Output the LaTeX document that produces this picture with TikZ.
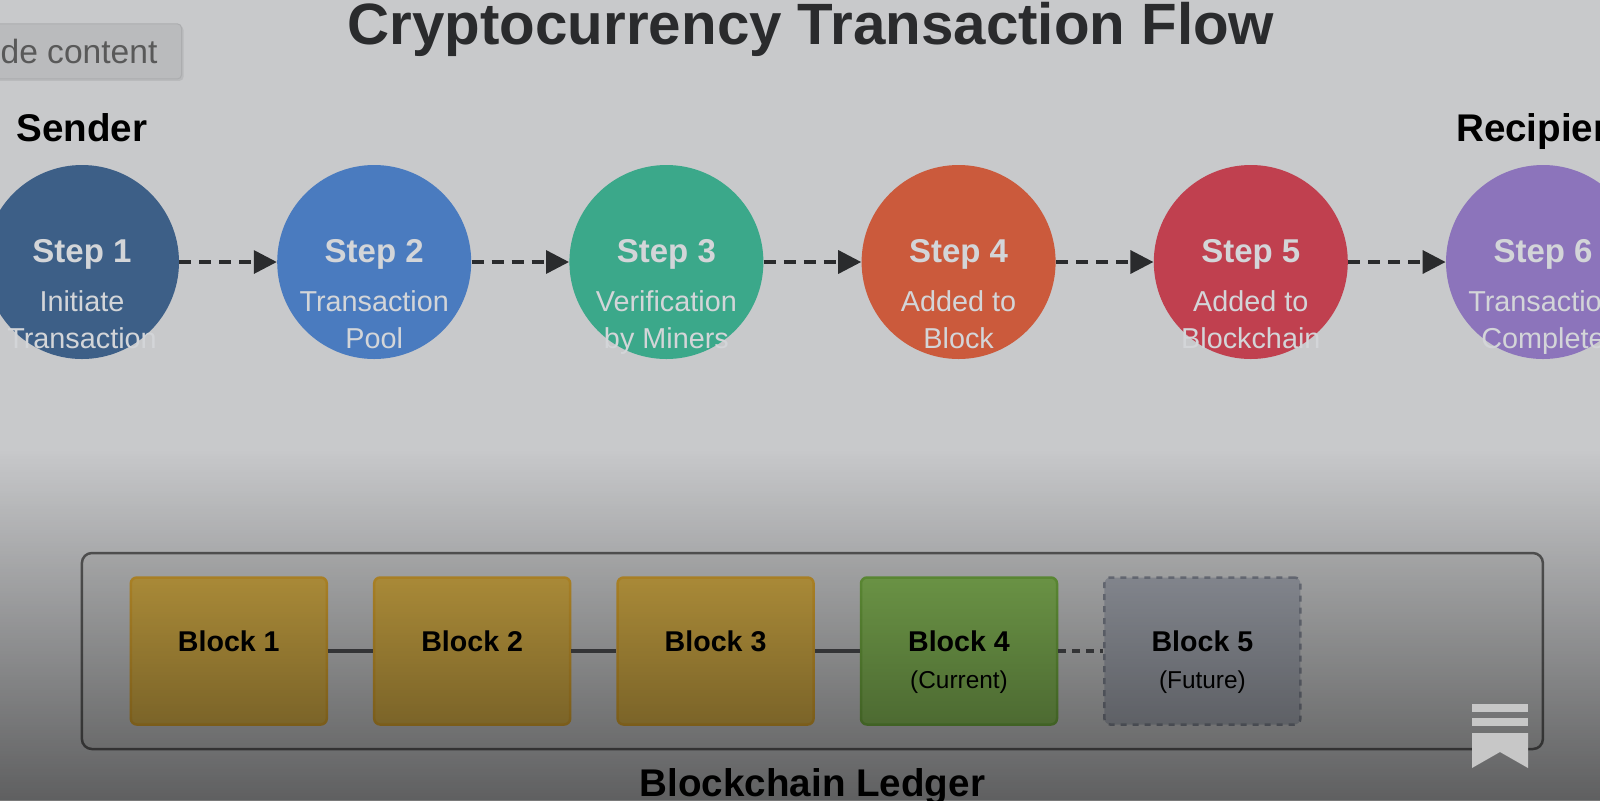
\documentclass[tikz,border=0pt]{standalone}
\usepackage{fontspec}
\setmainfont{Liberation Sans}
\usepackage{tikz}
\usetikzlibrary{arrows.meta,fadings,shadows}

\definecolor{pagebg}{HTML}{C8C9CB}
\definecolor{stepa}{HTML}{3D5F87}
\definecolor{stepb}{HTML}{4A7BBF}
\definecolor{stepc}{HTML}{3BA88A}
\definecolor{stepd}{HTML}{CB5A3C}
\definecolor{stepe}{HTML}{C0404F}
\definecolor{stepf}{HTML}{8C74BB}
\definecolor{goldfill}{HTML}{D1AA45}
\definecolor{goldline}{HTML}{D09E2E}
\definecolor{greenfill}{HTML}{83B555}
\definecolor{greenline}{HTML}{6FA63F}
\definecolor{greyfill}{HTML}{A0A4AD}
\definecolor{greyline}{HTML}{7A7F8B}
\definecolor{ledgerfill}{HTML}{C2C3C4}
\definecolor{stepwhite}{HTML}{D3D5D8}
\definecolor{inkdark}{HTML}{2A2B2D}
\definecolor{chaindark}{HTML}{4A4B4E}

\tikzfading[name=fadeledger, top color=transparent!100, bottom color=transparent!47]

\tikzset{
	stepcircle/.style={circle, minimum size=97pt, inner sep=0pt},
	steplabel/.style={align=center, text=stepwhite, font=\fontsize{14.4}{18.5}\selectfont},
	stepline/.style={-{Triangle[length=11.5pt,width=11.5pt]}, line width=1.75pt, dash pattern=on 6pt off 4pt, draw=inkdark},
	headlabel/.style={font=\fontsize{19.3}{23}\bfseries\selectfont, text=black, text height=14pt, text depth=4pt},
	blockbox/.style={draw, rectangle, rounded corners=3pt, line width=1.25pt, minimum width=98pt, minimum height=73.5pt, inner sep=0pt},
	blocklabel/.style={align=center, text=black, font=\fontsize{14.3}{19}\bfseries\selectfont},
	blocknote/.style={text=black, font=\fontsize{12.2}{15}\selectfont},
	chainline/.style={line width=2pt, draw=chaindark},
}
\newcommand{\steptext}[3]{{\fontsize{16.5}{18.5}\bfseries\selectfont #1\strut}\\[6pt] #2\\ #3\strut}

\begin{document}
\begin{tikzpicture}
	\useasboundingbox (0pt,0pt) rectangle (800pt,-400pt);
	\clip (0pt,0pt) rectangle (800pt,-400pt);
	\fill[pagebg] (0pt,0pt) rectangle (800pt,-400pt);

	\node (title) [anchor=base, text=inkdark, font=\fontsize{29.15}{35}\bfseries\selectfont] at (405.5pt,-22pt) {Cryptocurrency Transaction Flow};
	\node (hide) [anchor=east, draw=pagebg!86!black, line width=0.5pt, fill=pagebg!93!black, rounded corners=2pt, inner xsep=12pt, minimum height=27.5pt, text=black!65, font=\fontsize{16.8}{20}\selectfont, drop shadow={opacity=0.2, shadow xshift=1pt, shadow yshift=-1pt}] at (91pt,-25.7pt) {de content};

	% Steps
	\node (step1) [stepcircle, fill=stepa] at (41pt,-131pt) {};
	\node (step2) [stepcircle, fill=stepb, right of=step1, node distance=146.1pt] {};
	\node (step3) [stepcircle, fill=stepc, right of=step2, node distance=146.1pt] {};
	\node (step4) [stepcircle, fill=stepd, right of=step3, node distance=146.1pt] {};
	\node (step5) [stepcircle, fill=stepe, right of=step4, node distance=146.1pt] {};
	\node (step6) [stepcircle, fill=stepf, right of=step5, node distance=146.1pt] {};

	\node (sender) [headlabel, above of=step1, node distance=65.5pt] {Sender};
	\node (recipient) [headlabel, above of=step6, node distance=65.5pt] {Recipient};

	\node (label1) [steplabel, below of=step1, node distance=18pt] {\steptext{Step 1}{Initiate}{Transaction}};
	\node (label2) [steplabel, below of=step2, node distance=18pt] {\steptext{Step 2}{Transaction}{Pool}};
	\node (label3) [steplabel, below of=step3, node distance=18pt] {\steptext{Step 3}{Verification}{by Miners}};
	\node (label4) [steplabel, below of=step4, node distance=18pt] {\steptext{Step 4}{Added to}{Block}};
	\node (label5) [steplabel, below of=step5, node distance=18pt] {\steptext{Step 5}{Added to}{Blockchain}};
	\node (label6) [steplabel, below of=step6, node distance=18pt] {\steptext{Step 6}{Transaction}{Complete}};

	% Arrows
	\draw[stepline] (step1) -- (step2);
	\draw[stepline] (step2) -- (step3);
	\draw[stepline] (step3) -- (step4);
	\draw[stepline] (step4) -- (step5);
	\draw[stepline] (step5) -- (step6);

	% Ledger
	\node (ledger) [draw=black!64, fill=ledgerfill, rectangle, rounded corners=5pt, line width=1.25pt, minimum width=730.5pt, minimum height=98pt] at (406.2pt,-325.5pt) {};
	\node (ledgername) [headlabel, below of=ledger, node distance=67.5pt] {Blockchain Ledger};

	\node (block1) [blockbox, draw=goldline, fill=goldfill] at (114.4pt,-325.5pt) {};
	\node (block2) [blockbox, draw=goldline, fill=goldfill, right of=block1, node distance=121.7pt] {};
	\node (block3) [blockbox, draw=goldline, fill=goldfill, right of=block2, node distance=121.7pt] {};
	\node (block4) [blockbox, draw=greenline, fill=greenfill, right of=block3, node distance=121.7pt] {};
	\node (block5) [blockbox, draw=greyline, fill=greyfill, dashed, right of=block4, node distance=121.7pt] {};

	\node (name1) [blocklabel, above of=block1, node distance=5pt] {Block 1};
	\node (name2) [blocklabel, above of=block2, node distance=5pt] {Block 2};
	\node (name3) [blocklabel, above of=block3, node distance=5pt] {Block 3};
	\node (name4) [blocklabel, above of=block4, node distance=5pt] {Block 4};
	\node (name5) [blocklabel, above of=block5, node distance=5pt] {Block 5};
	\node (note4) [blocknote, below of=block4, node distance=15.5pt] {(Current)};
	\node (note5) [blocknote, below of=block5, node distance=15.5pt] {(Future)};

	\draw[chainline] (block1) -- (block2);
	\draw[chainline] (block2) -- (block3);
	\draw[chainline] (block3) -- (block4);
	\draw[chainline, dash pattern=on 4pt off 3pt] (block4) -- (block5);

	% Fade over the lower part
	\fill[black, path fading=fadeledger] (-20pt,-225pt) rectangle (820pt,-402pt);

	% Bookmark mark
	\fill[white!78!black] (736pt,-352pt) rectangle (764pt,-356pt);
	\fill[white!78!black] (736pt,-359pt) rectangle (764pt,-363pt);
	\fill[white!78!black] (736pt,-366.5pt) -- (764pt,-366.5pt) -- (764pt,-384pt) -- (750pt,-376pt) -- (736pt,-384pt) -- cycle;
\end{tikzpicture}
\end{document}
